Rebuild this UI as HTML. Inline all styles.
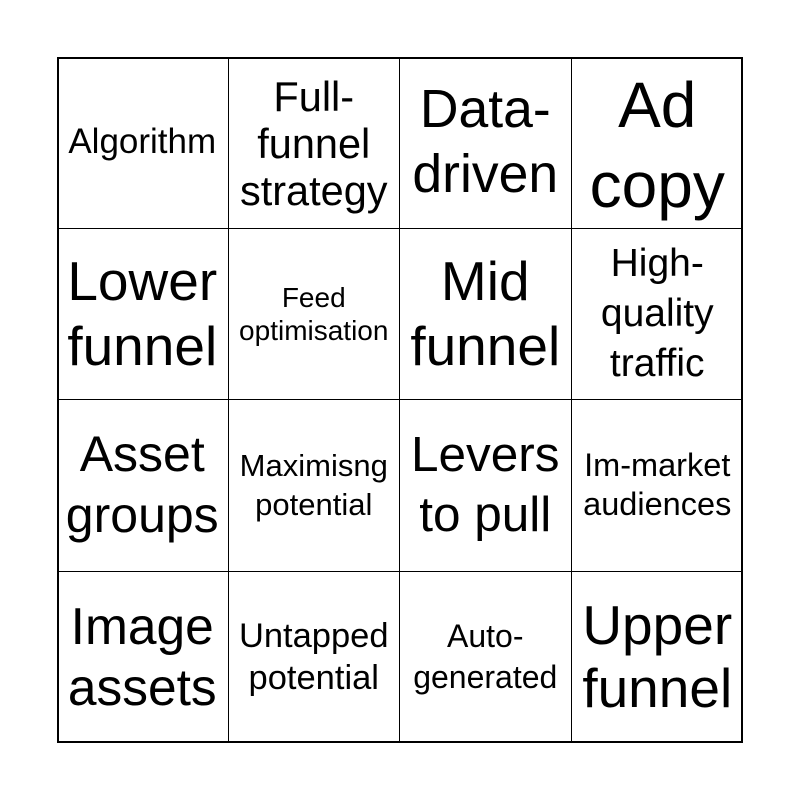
<!DOCTYPE html>
<html><head><meta charset="utf-8"><style>
html,body{margin:0;padding:0;background:#fff;}
body{width:800px;height:800px;position:relative;font-family:"Liberation Sans",Arial,sans-serif;color:#000;}
.g{position:absolute;left:57px;top:57px;width:686px;height:686px;border:2px solid #000;box-sizing:border-box;}
.c{position:absolute;width:171.5px;height:171.5px;box-sizing:border-box;border-right:1.5px solid #000;border-bottom:1.5px solid #000;display:flex;align-items:center;justify-content:center;text-align:center;white-space:nowrap;}
</style></head><body>
<div class="g"></div>
<div style="position:absolute;left:57px;top:57px;width:686px;height:686px;">
<div class="c" style="left:0;top:0;font-size:35px;line-height:40px;">Algorithm</div>
<div class="c" style="left:171.5px;top:0;font-size:41.5px;line-height:47px;padding-top:2px;">Full-<br>funnel<br>strategy</div>
<div class="c" style="left:343px;top:0;font-size:53.5px;line-height:65px;">Data-<br>driven</div>
<div class="c" style="left:514.5px;top:0;font-size:64px;line-height:80px;padding-top:6px;border-right:none;">Ad<br>copy</div>

<div class="c" style="left:0;top:171.5px;font-size:55px;line-height:65px;">Lower<br>funnel</div>
<div class="c" style="left:171.5px;top:171.5px;font-size:28px;line-height:33px;">Feed<br>optimisation</div>
<div class="c" style="left:343px;top:171.5px;font-size:55px;line-height:65px;">Mid<br>funnel</div>
<div class="c" style="left:514.5px;top:171.5px;font-size:39px;line-height:50px;border-right:none;">High-<br>quality<br>traffic</div>

<div class="c" style="left:0;top:343px;font-size:50px;line-height:61px;">Asset<br>groups</div>
<div class="c" style="left:171.5px;top:343px;font-size:31px;line-height:39px;">Maximisng<br>potential</div>
<div class="c" style="left:343px;top:343px;font-size:49.5px;line-height:60px;">Levers<br>to pull</div>
<div class="c" style="left:514.5px;top:343px;font-size:32.5px;line-height:39px;border-right:none;">Im-market<br>audiences</div>

<div class="c" style="left:0;top:514.5px;font-size:51.5px;line-height:61px;border-bottom:none;">Image<br>assets</div>
<div class="c" style="left:171.5px;top:514.5px;font-size:34.5px;line-height:42px;border-bottom:none;">Untapped<br>potential</div>
<div class="c" style="left:343px;top:514.5px;font-size:32px;line-height:41px;border-bottom:none;">Auto-<br>generated</div>
<div class="c" style="left:514.5px;top:514.5px;font-size:55px;line-height:63px;border-right:none;border-bottom:none;">Upper<br>funnel</div>
</div>
</body></html>
